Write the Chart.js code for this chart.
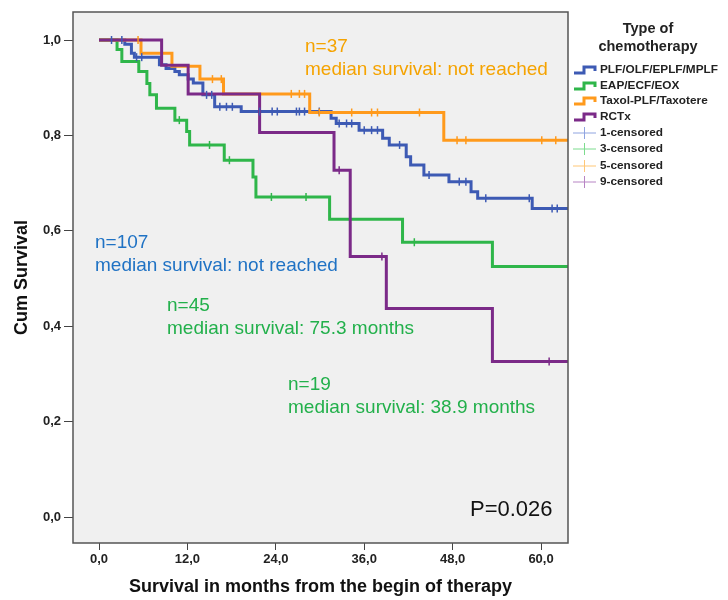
<!DOCTYPE html>
<html>
<head>
<meta charset="utf-8">
<script src="https://cdn.jsdelivr.net/npm/chart.js@4.4.1/dist/chart.umd.min.js"></script>
<style>
  html, body { margin: 0; padding: 0; background: #fff; }
  #wrap { width: 728px; height: 600px; }
</style>
</head>
<body>
<div id="wrap"><canvas id="km" width="728" height="600"></canvas></div>
<script>
// Kaplan-Meier curves by type of chemotherapy
const groupLabels = ['PLF/OLF/EPLF/MPLF', 'EAP/ECF/EOX', 'Taxol-PLF/Taxotere', 'RCTx'];
const censorLabels = ['1-censored', '3-censored', '5-censored', '9-censored'];

// event times (months) and cumulative survival after each event
const plfTimes = [3.5, 4.4, 4.8, 8.2, 9.1, 10.3, 10.9, 12.1, 12.8, 14.1, 15.7, 19.3, 31.5, 32.2, 35.3, 38.5, 39.4, 41.7, 42.3, 44.1, 47.5, 50.5, 51.4, 58.8];
const plfSurv  = [0.991, 0.972, 0.964, 0.948, 0.940, 0.934, 0.927, 0.918, 0.910, 0.885, 0.860, 0.850, 0.836, 0.825, 0.811, 0.794, 0.780, 0.755, 0.738, 0.717, 0.703, 0.682, 0.668, 0.647];
const plfCensored = [1.7, 3.1, 5.1, 5.8, 14.6, 15.3, 16.4, 17.3, 18.1, 21.8, 23.5, 24.2, 26.8, 27.2, 27.9, 29.9, 32.6, 33.6, 34.3, 36.0, 37.0, 37.8, 40.8, 44.8, 48.9, 49.8, 52.5, 58.4, 61.5, 62.2];

const eapTimes = [2.45, 3.1, 5.4, 6.5, 6.9, 7.8, 10.3, 11.9, 12.3, 17.0, 20.9, 21.3, 31.3, 41.2, 53.4];
const eapSurv  = [0.980, 0.955, 0.934, 0.909, 0.885, 0.857, 0.832, 0.808, 0.780, 0.748, 0.713, 0.671, 0.624, 0.576, 0.525];
const eapCensored = [10.9, 15.0, 17.7, 23.4, 28.1, 42.8];

const taxTimes = [5.7, 9.9, 13.7, 16.9, 28.6, 46.8];
const taxSurv  = [0.972, 0.945, 0.918, 0.887, 0.848, 0.790];
const taxCensored = [5.3, 15.4, 16.6, 26.1, 27.2, 27.9, 29.9, 34.3, 37.0, 37.8, 43.5, 48.6, 49.8, 60.1, 62.0];

const rctTimes = [8.5, 12.1, 21.8, 31.9, 34.1, 39.0, 53.4];
const rctSurv  = [0.947, 0.887, 0.806, 0.727, 0.546, 0.437, 0.326];
const rctCensored = [32.6, 38.4, 61.1];

const lastFollowUp = 63.66;
const xTicks = [0, 12, 24, 36, 48, 60];
const yTicks = [0, 0.2, 0.4, 0.6, 0.8, 1.0];

const lineColors = ['#3d5ab4', '#2fb64a', '#ff9a1c', '#7b2a88'];
const censorColors = ['#8fa4e0', '#7ddc8e', '#ffc777', '#b784c4'];

function curve(times, surv) {
  const pts = [{ x: 0, y: 1 }];
  times.forEach((t, i) => pts.push({ x: t, y: surv[i] }));
  pts.push({ x: lastFollowUp, y: surv[surv.length - 1] });
  return pts;
}
function survAt(times, surv, t) {
  let s = 1;
  times.forEach((tt, i) => { if (tt <= t) s = surv[i]; });
  return s;
}
function censorPts(times, surv, cens) {
  return cens.map(t => ({ x: t, y: survAt(times, surv, t) }));
}

const groups = [
  [plfTimes, plfSurv, plfCensored],
  [eapTimes, eapSurv, eapCensored],
  [taxTimes, taxSurv, taxCensored],
  [rctTimes, rctSurv, rctCensored]
];

const datasets = [];
groups.forEach((g, i) => {
  datasets.push({
    label: groupLabels[i],
    data: curve(g[0], g[1]),
    showLine: true,
    stepped: 'before',
    borderColor: lineColors[i],
    borderWidth: 3,
    pointRadius: 0,
    fill: false,
    order: 8 - i
  });
  datasets.push({
    label: censorLabels[i],
    data: censorPts(g[0], g[1], g[2]),
    showLine: false,
    pointStyle: 'line',
    rotation: 90,
    pointRadius: 4,
    borderColor: lineColors[i],
    borderWidth: 1.5,
    order: 4 - i
  });
});

const fmt = v => Number(v).toFixed(1).replace('.', ',');
const FONT = '"Liberation Sans", Arial, sans-serif';

const framePlugin = {
  id: 'frame',
  beforeDatasetsDraw(chart) {
    const a = chart.chartArea, ctx = chart.ctx;
    ctx.save();
    ctx.fillStyle = '#f0f0f0';
    ctx.fillRect(a.left, a.top, a.right - a.left, a.bottom - a.top);
    ctx.restore();
  },
  afterDatasetsDraw(chart) {
    const a = chart.chartArea, ctx = chart.ctx;
    ctx.save();
    ctx.strokeStyle = '#555';
    ctx.lineWidth = 1.5;
    ctx.strokeRect(a.left, a.top, a.right - a.left, a.bottom - a.top);
    ctx.restore();
  }
};

const notesPlugin = {
  id: 'notes',
  afterDraw(chart) {
    const ctx = chart.ctx;
    ctx.save();
    ctx.textBaseline = 'middle';
    ctx.textAlign = 'left';
    ctx.font = '19px ' + FONT;
    const notes = [
      ['n=37', 305, 47, '#f5a300'], ['median survival: not reached', 305, 70, '#f5a300'],
      ['n=107', 95, 243, '#1f72c4'], ['median survival: not reached', 95, 266, '#1f72c4'],
      ['n=45', 167, 306, '#22b04b'], ['median survival: 75.3 months', 167, 329, '#22b04b'],
      ['n=19', 288, 385, '#22b04b'], ['median survival: 38.9 months', 288, 408, '#22b04b']
    ];
    notes.forEach(n => { ctx.fillStyle = n[3]; ctx.fillText(n[0], n[1], n[2]); });
    ctx.fillStyle = '#111';
    ctx.font = '22px ' + FONT;
    ctx.fillText('P=0.026', 470, 510);

    // legend
    ctx.fillStyle = '#222';
    ctx.textAlign = 'center';
    ctx.font = 'bold 14.5px ' + FONT;
    ctx.fillText('Type of', 648, 29);
    ctx.fillText('chemotherapy', 648, 47);
    ctx.textAlign = 'left';
    ctx.font = 'bold 11.8px ' + FONT;
    const rows = [70, 86, 101, 117, 133, 149, 166, 182];
    groupLabels.forEach((lab, i) => {
      const y = rows[i];
      ctx.strokeStyle = lineColors[i];
      ctx.lineWidth = 3;
      ctx.beginPath();
      ctx.moveTo(574, y + 3);
      ctx.lineTo(584, y + 3);
      ctx.lineTo(584, y - 3);
      ctx.lineTo(595, y - 3);
      ctx.lineTo(595, y + 1);
      ctx.stroke();
      ctx.fillStyle = '#222';
      ctx.fillText(lab, 600, y);
    });
    censorLabels.forEach((lab, i) => {
      const y = rows[i + 4];
      ctx.strokeStyle = censorColors[i];
      ctx.lineWidth = 1;
      ctx.beginPath();
      ctx.moveTo(573, y);
      ctx.lineTo(596, y);
      ctx.moveTo(584.5, y - 6);
      ctx.lineTo(584.5, y + 6);
      ctx.stroke();
      ctx.fillStyle = '#222';
      ctx.fillText(lab, 600, y);
    });
    ctx.restore();
  }
};

new Chart(document.getElementById('km'), {
  type: 'scatter',
  data: { datasets: datasets },
  options: {
    responsive: false,
    animation: false,
    layout: { padding: { left: 0, right: 160, top: 12, bottom: 0 } },
    plugins: {
      legend: { display: false },
      tooltip: { enabled: false }
    },
    scales: {
      x: {
        type: 'linear',
        min: -3.53,
        max: 63.66,
        afterBuildTicks: s => { s.ticks = xTicks.map(v => ({ value: v })); },
        afterFit: s => { s.height = 57; },
        grid: { drawOnChartArea: false, tickLength: 7, color: '#444' },
        border: { display: false },
        ticks: {
          callback: v => fmt(v),
          color: '#222',
          padding: 2,
          maxRotation: 0,
          font: { family: FONT, size: 13, weight: 'bold' }
        },
        title: {
          display: true,
          text: 'Survival in months from the begin of therapy',
          color: '#111',
          padding: { top: 0, bottom: 2 },
          font: { family: FONT, size: 18, weight: 'bold' }
        }
      },
      y: {
        type: 'linear',
        min: -0.0545,
        max: 1.0587,
        afterBuildTicks: s => { s.ticks = yTicks.map(v => ({ value: v })); },
        afterFit: s => { s.width = 73; },
        grid: { drawOnChartArea: false, tickLength: 9, color: '#444' },
        border: { display: false },
        ticks: {
          callback: v => fmt(v),
          color: '#222',
          padding: 3,
          font: { family: FONT, size: 13, weight: 'bold' }
        },
        title: {
          display: true,
          text: 'Cum Survival',
          color: '#111',
          padding: { top: 11, bottom: 0 },
          font: { family: FONT, size: 18, weight: 'bold' }
        }
      }
    }
  },
  plugins: [framePlugin, notesPlugin]
});
</script>
</body>
</html>
